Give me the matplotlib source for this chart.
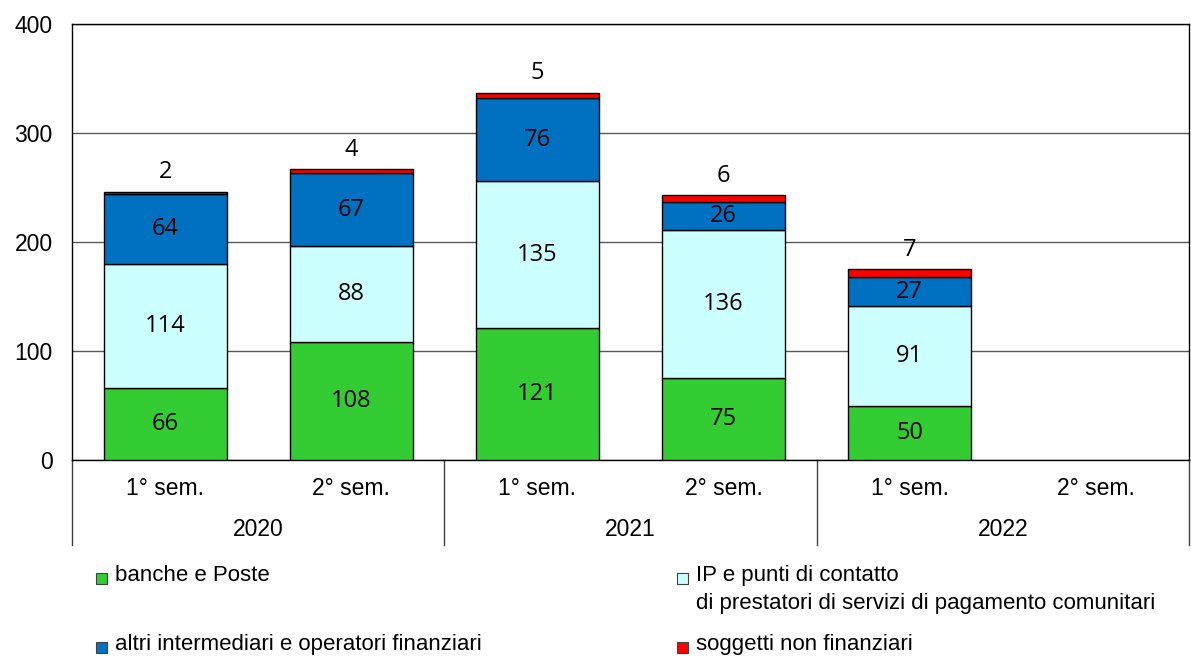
import numpy as np
import matplotlib.pyplot as plt
from matplotlib.patches import Rectangle

# dati (numero di segnalazioni per semestre)
semestri = ["1° sem.", "2° sem.", "1° sem.", "2° sem.", "1° sem.", "2° sem."]
anni = ["2020", "2021", "2022"]
banche = [66, 108, 121, 75, 50]
ip = [114, 88, 135, 136, 91]
altri = [64, 67, 76, 26, 27]
non_fin = [2, 4, 5, 6, 7]

serie = ["banche e Poste",
         "IP e punti di contatto\ndi prestatori di servizi di pagamento comunitari",
         "altri intermediari e operatori finanziari",
         "soggetti non finanziari"]
colori = ["#33CC33", "#CCFFFF", "#0070C0", "#FF0000"]

plt.rcParams['font.family'] = ['Liberation Sans', 'DejaVu Sans']
FS = 16.5
FS_NUM = 17
NUM_FONT = ['Open Sans', 'DejaVu Sans']

fig = plt.figure(figsize=(11.91, 6.61), dpi=100)
ax = fig.add_axes([72 / 1191, 1 - 460 / 661, (1189 - 72) / 1191, 436 / 661])

x = np.arange(len(banche))
w = 0.66
bottom = np.zeros(len(banche))
for vals, col in zip([banche, ip, altri, non_fin], colori):
    vals = np.array(vals)
    ax.bar(x, vals, w, bottom=bottom, color=col, edgecolor='black', linewidth=1, zorder=3)
    if col != "#FF0000":
        for xi, b, v in zip(x, bottom, vals):
            ax.text(xi, b + v / 2, str(v), ha='center', va='center', fontsize=FS_NUM,
                    family=NUM_FONT, zorder=4)
    bottom = bottom + vals

# etichette sopra le barre (soggetti non finanziari)
for xi, tot, v in zip(x, bottom, non_fin):
    ax.annotate(str(v), (xi, tot), xytext=(0, 14), textcoords='offset points',
                ha='center', va='center', fontsize=FS_NUM, family=NUM_FONT)

ax.set_xlim(-0.5, len(semestri) - 0.5)
ax.set_ylim(0, 400)
ax.set_yticks([0, 100, 200, 300, 400])
ax.tick_params(axis='y', length=0, pad=14, labelsize=FS)
ax.yaxis.grid(True, color='#595959', linewidth=1, zorder=0)
ax.set_axisbelow(True)
for s in ax.spines.values():
    s.set_color('black')
    s.set_linewidth(1)

ax.set_xticks(np.arange(len(semestri)))
ax.set_xticklabels(semestri, fontsize=FS)
ax.tick_params(axis='x', length=0, pad=12)

# anni e separatori
tr = ax.get_xaxis_transform()
for i, anno in enumerate(anni):
    ax.text(2 * i + 0.5, -70 / 436, anno, transform=tr, ha='center', va='center', fontsize=FS)
for xs in [-0.5, 1.5, 3.5, 5.5]:
    ax.plot([xs, xs], [0, -85 / 436], transform=tr, color='#404040', linewidth=1, clip_on=False)

# legenda
H = 661
leg = [(96, 578, 0), (677, 578, 1), (96, 647, 2), (677, 647, 3)]
for px, py, k in leg:
    fig.add_artist(Rectangle((px / 1191, 1 - (py + 6) / H), 11 / 1191, 11 / H,
                             facecolor=colori[k], edgecolor='#404040', linewidth=0.8,
                             transform=fig.transFigure))
    fig.text((px + 19) / 1191, 1 - (py - 13) / H, serie[k], ha='left', va='top',
             fontsize=16, linespacing=1.45)

fig.savefig("out.png", dpi=100)
